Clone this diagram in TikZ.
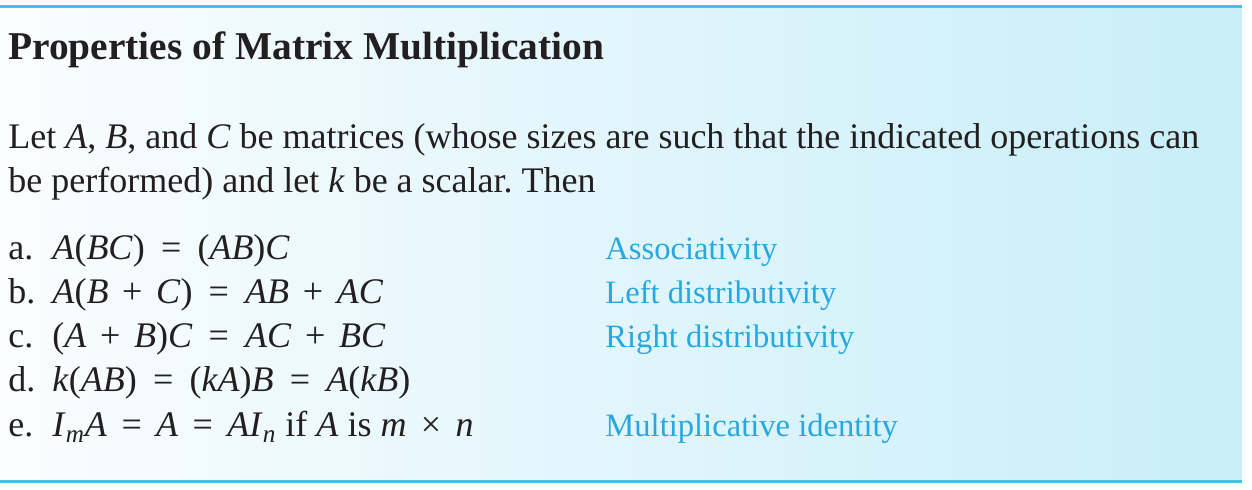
\documentclass[tikz,border=0pt]{standalone}
\usepackage{fontspec}
\setmainfont{Liberation Serif}
\usetikzlibrary{positioning}
\frenchspacing
\definecolor{boxline}{RGB}{72,190,232}
\definecolor{proptext}{RGB}{40,168,224}
\definecolor{inktext}{RGB}{35,31,32}
\definecolor{shadeleft}{RGB}{250,253,255}
\definecolor{shaderight}{RGB}{200,238,248}
\newcommand{\mv}[1]{\textit{#1}}
\newcommand{\opsp}[2][0.45em]{\hskip#1\relax#2\hskip#1\relax}
\newcommand{\plussp}{\opsp[0.38em]{+}}
\tikzset{
  txt/.style={inner sep=0pt, anchor=base west, text=inktext, font=\fontsize{18}{21}\selectfont},
  prop/.style={txt, text=proptext, font=\fontsize{16.3}{19}\selectfont},
  heading/.style={txt, font=\fontsize{19.7}{23}\selectfont\bfseries},
}

\begin{document}
\begin{tikzpicture}[x=0.5pt,y=-0.5pt]
  \useasboundingbox (0,0) rectangle (1252,490);
  \shade[left color=shadeleft, right color=shaderight] (0,8) rectangle (1242,481);
  \draw[boxline, line width=1.5pt] (0,7) -- (1242,7);
  \draw[boxline, line width=1.5pt] (0,482) -- (1242,482);

  \node[heading] (title) at (8,60) {Properties of Matrix Multiplication};

  \node[txt] (intro1) at (8,149) {Let \mv{A}, \mv{B}, and \mv{C} be matrices (whose sizes are such that the indicated operations can};
  \node[txt] (intro2) at (8,193) {be performed) and let \mv{k} be a scalar. Then};

  % properties a to e
  \node[txt] (la) at (8,260) {a.};
  \node[txt] (fa) at (52,260) {\mv{A}(\mv{BC})\opsp{=}(\mv{AB})\mv{C}};
  \node[prop] (pa) at (605,260) {Associativity};

  \node[txt] (lb) at (8,304) {b.};
  \node[txt] (fb) at (52,304) {\mv{A}(\mv{B}\plussp\mv{C})\opsp{=}\mv{AB}\plussp\mv{AC}};
  \node[prop] (pb) at (605,304) {Left distributivity};

  \node[txt] (lc) at (8,348) {c.};
  \node[txt] (fc) at (52,348) {(\mv{A}\plussp\mv{B})\mv{C}\opsp{=}\mv{AC}\plussp\mv{BC}};
  \node[prop] (pc) at (605,348) {Right distributivity};

  \node[txt] (ld) at (8,392) {d.};
  \node[txt] (fd) at (52,392) {\mv{k}(\mv{AB})\opsp{=}(\mv{kA})\mv{B}\opsp{=}\mv{A}(\mv{kB})};

  \node[txt] (le) at (8,437) {e.};
  \node[txt] (fe) at (52,437) {\mv{I}\textsubscript{\mv{m}}\mv{A}\opsp[0.4em]{=}\mv{A}\opsp[0.4em]{=}\mv{AI}\textsubscript{\mv{n}} if \mv{A} is \mv{m}\opsp[0.4em]{×}\mv{n}};
  \node[prop] (pe) at (605,437) {Multiplicative identity};
\end{tikzpicture}
\end{document}
